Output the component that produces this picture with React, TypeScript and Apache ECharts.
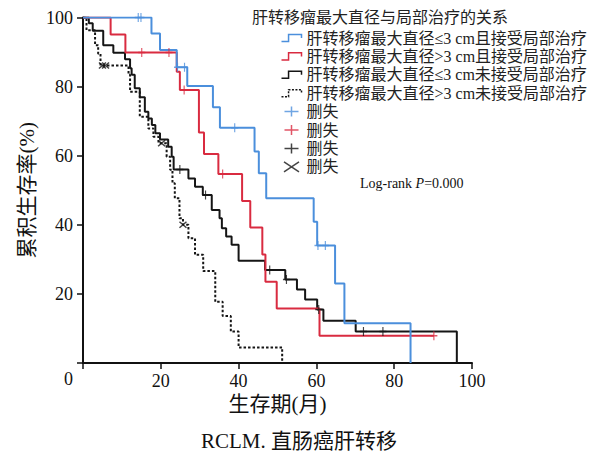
import React, { useEffect, useRef } from "react";
import * as echarts from "echarts";

// ---------- data ----------
const xTicks = [0, 20, 40, 60, 80, 100];
const yTicks = [0, 20, 40, 60, 80, 100];

const seriesNames = [
  "肝转移瘤最大直径≤3 cm且接受局部治疗",
  "肝转移瘤最大直径>3 cm且接受局部治疗",
  "肝转移瘤最大直径≤3 cm未接受局部治疗",
  "肝转移瘤最大直径>3 cm未接受局部治疗",
];
const censorNames = ["删失", "删失\u200b", "删失\u200b\u200b", "删失\u200b\u200b\u200b"];

// blue: ≤3 cm, local therapy
const blueTimes = [17.6, 19.8, 24.1, 26.8, 33.4, 35.2, 44.1, 45.2, 47.1, 59.3, 60.2, 64.8, 67.2, 84.2];
const blueSurv = [95.4, 90.6, 85.6, 80.2, 74.0, 68.1, 61.2, 54.9, 47.7, 40.9, 34.0, 23.0, 11.5, 0];
const blueEnd = 84.2;
const blueCensorT = [14.2, 14.9, 24.3, 26.1, 39.0, 60.4, 62.3];
const blueCensorS = [100, 100, 85.6, 85.6, 68.1, 34.0, 34.0];

// red: >3 cm, local therapy
const redTimes = [7.1, 10.9, 24.1, 24.9, 29.8, 31.1, 34.8, 40.9, 43.0, 46.1, 46.9, 49.8, 60.8];
const redSurv = [95.1, 89.9, 84.3, 79.0, 66.7, 60.5, 54.7, 46.9, 39.2, 31.4, 23.5, 15.8, 7.9];
const redEnd = 90.2;
const redCensorT = [15.1, 22.1, 26.0, 35.9, 90.2];
const redCensorS = [89.9, 89.9, 79.0, 54.7, 7.9];

// black solid: ≤3 cm, no local therapy
const blackTimes = [1.5, 2.5, 5.2, 7.8, 10.8, 12.1, 12.5, 13.3, 14.6, 15.9, 16.8, 17.7, 18.6, 19.8, 21.9, 22.8, 23.3, 27.1, 28.8, 30.8, 33.1, 35.1, 35.7, 36.8, 38.2, 40.0, 46.8, 52.0, 55.0, 57.1, 60.2, 61.8, 70.1, 96.1];
const blackSurv = [98.3, 96.2, 92.0, 89.8, 87.9, 85.3, 83.4, 79.5, 76.9, 72.7, 70.8, 68.9, 66.5, 64.7, 62.6, 59.7, 56.0, 53.4, 51.0, 48.6, 44.3, 41.9, 39.0, 36.6, 34.2, 29.6, 26.9, 24.2, 21.3, 18.4, 15.5, 12.2, 9.1, 0];
const blackEnd = 96.1;
const blackCensorT = [24.9, 31.5, 48.0, 52.3, 60.6, 72.1, 77.1];
const blackCensorS = [56.0, 48.6, 26.9, 24.2, 15.5, 9.1, 9.1];

// dotted: >3 cm, no local therapy
const dotTimes = [0.9, 3.1, 3.9, 4.5, 11.7, 12.1, 14.6, 16.8, 18.1, 19.4, 21.5, 22.4, 23.0, 23.6, 24.8, 25.7, 27.1, 28.8, 30.9, 34.0, 35.9, 38.0, 40.0, 51.2];
const dotSurv = [96.3, 92.0, 89.5, 86.1, 83.4, 78.5, 71.3, 67.9, 65.5, 63.6, 59.7, 55.9, 52.0, 47.7, 41.9, 40.0, 36.1, 31.3, 26.6, 17.7, 13.6, 9.1, 4.5, 0];
const dotEnd = 51.2;
const dotCensorT = [5.0, 5.8, 20.2, 25.7];
const dotCensorS = [86.1, 86.1, 63.6, 40.0];

// ---------- styles ----------
const BLUE = "#4b8fdc";
const RED = "#d92b40";
const BLACK = "#151515";
const FONT = "'Liberation Serif', 'Noto Sans CJK SC', serif";

function stepPoints(times: number[], surv: number[], end: number) {
  const pts: number[][] = [[0, 100]];
  let prev = 100;
  times.forEach((t, i) => {
    pts.push([t, prev]);
    pts.push([t, surv[i]]);
    prev = surv[i];
  });
  const last = pts[pts.length - 1];
  if (last[0] < end) pts.push([end, prev]);
  return pts;
}

function zip(a: number[], b: number[]) {
  return a.map((v, i) => [v, b[i]]);
}

const PLUS = "path://M0,5L14,5M7,0L7,10";
const PLUS_MARK = "path://M0,5L10,5M5,0L5,10";
const CROSS = "path://M0,0L12,8M0,8L12,0";
const STEP = "path://M0,7L6,7L6,1L17,1L17,4";

export default function App() {
  const ref = useRef<HTMLDivElement>(null);
  useEffect(() => {
    if (!ref.current) return;
    const chart = echarts.init(ref.current, undefined, { renderer: "svg" });
    const lineColors = [BLUE, RED, BLACK, BLACK];
    const lineData = [
      stepPoints(blueTimes, blueSurv, blueEnd),
      stepPoints(redTimes, redSurv, redEnd),
      stepPoints(blackTimes, blackSurv, blackEnd),
      stepPoints(dotTimes, dotSurv, dotEnd),
    ];
    const censorData = [
      zip(blueCensorT, blueCensorS),
      zip(redCensorT, redCensorS),
      zip(blackCensorT, blackCensorS),
      zip(dotCensorT, dotCensorS),
    ];
    const series: any[] = [];
    lineData.forEach((d, i) => {
      series.push({
        name: seriesNames[i],
        type: "line",
        data: d,
        showSymbol: false,
        symbol: "none",
        lineStyle: {
          color: lineColors[i],
          width: 2,
          type: i === 3 ? [2.5, 2] : "solid",
        },
        itemStyle: { color: lineColors[i] },
        z: 2 + (3 - i),
      });
    });
    censorData.forEach((d, i) => {
      series.push({
        name: censorNames[i],
        type: "scatter",
        data: d,
        symbol: i === 3 ? CROSS : PLUS_MARK,
        symbolSize: i === 3 ? [7, 6] : [7, 9],
        itemStyle: { color: "none", borderColor: lineColors[i], borderWidth: 1.3 },
        z: 6,
      });
    });

    const legendData: any[] = [];
    seriesNames.forEach((n, i) => {
      legendData.push({
        name: n,
        icon: STEP,
        itemStyle: {
          color: "none",
          borderColor: lineColors[i],
          borderWidth: 1.5,
          borderType: i === 3 ? [2, 1.5] : "solid",
        },
      });
    });
    censorNames.forEach((n, i) => {
      legendData.push({
        name: n,
        icon: i === 3 ? CROSS : PLUS,
        itemStyle: { color: "none", borderColor: lineColors[i], borderWidth: 1.5 },
      });
    });

    chart.setOption({
      animation: false,
      backgroundColor: "#ffffff",
      title: {
        text: "肝转移瘤最大直径与局部治疗的关系",
        left: 252,
        top: 9,
        padding: 0,
        textStyle: { fontFamily: FONT, fontSize: 16, fontWeight: "normal", color: "#222" },
      },
      legend: {
        orient: "vertical",
        left: 279,
        top: 30,
        padding: 0,
        itemGap: 2.4,
        itemWidth: 20,
        itemHeight: 10,
        selectedMode: false,
        data: legendData,
        formatter: (n: string) => n.replace(/\u200b/g, ""),
        textStyle: { fontFamily: FONT, fontSize: 16, color: "#222", lineHeight: 16 },
      },
      grid: { left: 83, right: 117, top: 17.5, bottom: 89, containLabel: false },
      xAxis: {
        type: "value",
        min: xTicks[0],
        max: xTicks[xTicks.length - 1],
        interval: 20,
        name: "生存期(月)",
        nameLocation: "middle",
        nameGap: 30,
        nameMoveOverlap: false,
        nameTextStyle: { fontFamily: FONT, fontSize: 21, color: "#111" },
        axisLine: { show: true, onZero: false, lineStyle: { color: "#111", width: 2 } },
        axisTick: { show: true, length: 6, lineStyle: { color: "#111", width: 1.5 } },
        axisLabel: {
          fontFamily: FONT,
          fontSize: 18,
          color: "#111",
          margin: 9,
          formatter: (v: number) => (v === 0 ? "" : String(v)),
        },
        splitLine: { show: false },
      },
      yAxis: {
        type: "value",
        min: yTicks[0],
        max: yTicks[yTicks.length - 1],
        interval: 20,
        name: "累积生存率(%)",
        nameLocation: "middle",
        nameRotate: 90,
        nameGap: 46,
        nameMoveOverlap: false,
        nameTextStyle: { fontFamily: FONT, fontSize: 21, color: "#111" },
        axisLine: { show: true, onZero: false, lineStyle: { color: "#111", width: 2 } },
        axisTick: { show: true, length: 6, lineStyle: { color: "#111", width: 1.5 } },
        axisLabel: {
          fontFamily: FONT,
          fontSize: 18,
          color: "#111",
          margin: 10,
          formatter: (v: number) => (v === 0 ? "" : String(v)),
        },
        splitLine: { show: false },
      },
      graphic: [
        {
          type: "text",
          left: 64,
          top: 370,
          style: { text: "0", font: `18px ${FONT}`, fill: "#111" },
        },
        {
          type: "text",
          left: 360,
          top: 176,
          style: {
            text: "{n|Log-rank }{i|P}{n|=0.000}",
            rich: {
              n: { fontFamily: FONT, fontSize: 14, fill: "#111" },
              i: { fontFamily: FONT, fontSize: 14, fontStyle: "italic", fill: "#111" },
            } as any,
          },
        },
        {
          type: "text",
          left: 201,
          top: 430,
          style: {
            text: "RCLM. 直肠癌肝转移",
            font: `21px ${FONT}`,
            fill: "#111",
          },
        },
      ],
      series,
    });
    return () => chart.dispose();
  }, []);
  return (
    <div
      ref={ref}
      style={{ position: "fixed", left: 0, top: 0, width: 589, height: 452, background: "#fff" }}
    />
  );
}
